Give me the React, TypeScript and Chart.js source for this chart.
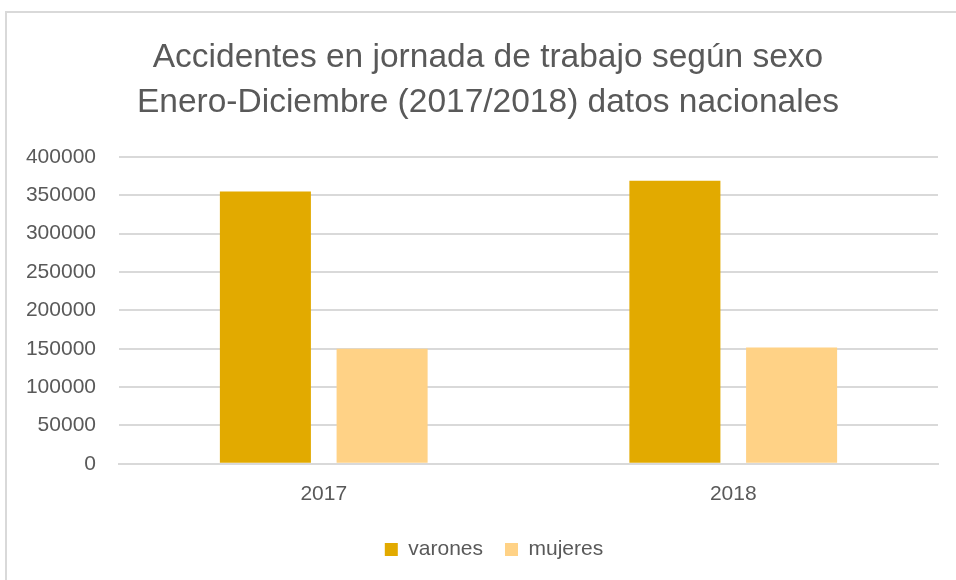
import React, { useEffect, useRef } from "react";
import { Chart, registerables } from "chart.js";

Chart.register(...registerables);

const categories = ["2017", "2018"];
const varones = [355000, 369000];
const mujeres = [150000, 151500];
const titleLines = [
  "Accidentes en jornada de trabajo según sexo",
  "Enero-Diciembre (2017/2018) datos nacionales",
];

const FONT = "'Liberation Sans', Arial, sans-serif";

const titlePlugin = {
  id: "customTitle",
  afterLayout(chart: any) {
    const lg = chart.legend;
    if (lg) {
      lg.left += 12;
      lg.right += 12;
    }
  },
  afterDraw(chart: any) {
    const ctx = chart.ctx;
    ctx.save();
    ctx.fillStyle = "#595959";
    ctx.font = `33.5px ${FONT}`;
    ctx.textAlign = "center";
    ctx.textBaseline = "alphabetic";
    titleLines.forEach((line, i) => {
      ctx.fillText(line, 488, 67 + i * 45);
    });
    ctx.restore();
  },
};

export default function App() {
  const ref = useRef<HTMLCanvasElement | null>(null);
  useEffect(() => {
    if (!ref.current) return;
    const chart = new Chart(ref.current, {
      type: "bar",
      data: {
        labels: categories,
        datasets: [
          { label: "varones", data: varones, backgroundColor: "#E2AA00" },
          { label: "mujeres", data: mujeres, backgroundColor: "#FFD286" },
        ],
      },
      plugins: [titlePlugin],
      options: {
        animation: false,
        responsive: false,
        layout: { padding: { left: 26, right: 18, top: 157, bottom: 10 } },
        datasets: { bar: { categoryPercentage: 0.57, barPercentage: 0.78 } },
        plugins: {
          tooltip: { enabled: false },
          title: { display: false },
          legend: {
            position: "bottom",
            labels: {
              boxWidth: 13,
              boxHeight: 13,
              color: "#595959",
              font: { family: FONT, size: 21 },
              padding: 22,
            },
          },
        },
        scales: {
          x: {
            grid: { display: false },
            border: { color: "#d9d9d9", width: 2 },
            ticks: { color: "#595959", font: { family: FONT, size: 21 }, padding: 10 },
          },
          y: {
            min: 0,
            max: 400000,
            afterFit: (scale: any) => {
              scale.width = 93;
            },
            ticks: {
              stepSize: 50000,
              color: "#595959",
              font: { family: FONT, size: 21 },
              padding: 23,
              callback: (v: any) => String(v),
            },
            grid: { color: "#d9d9d9", lineWidth: 2, drawTicks: false },
            border: { display: false },
          },
        },
      },
    });
    return () => chart.destroy();
  }, []);
  return (
    <div style={{ position: "fixed", left: 0, top: 0, width: 956, height: 580, background: "#fff" }}>
      <div style={{ position: "absolute", left: 5, top: 11, right: 0, bottom: 0, borderLeft: "2px solid #d9d9d9", borderTop: "2px solid #d9d9d9" }} />
      <canvas ref={ref} width={956} height={580} style={{ position: "absolute", left: 0, top: 0 }} />
    </div>
  );
}
